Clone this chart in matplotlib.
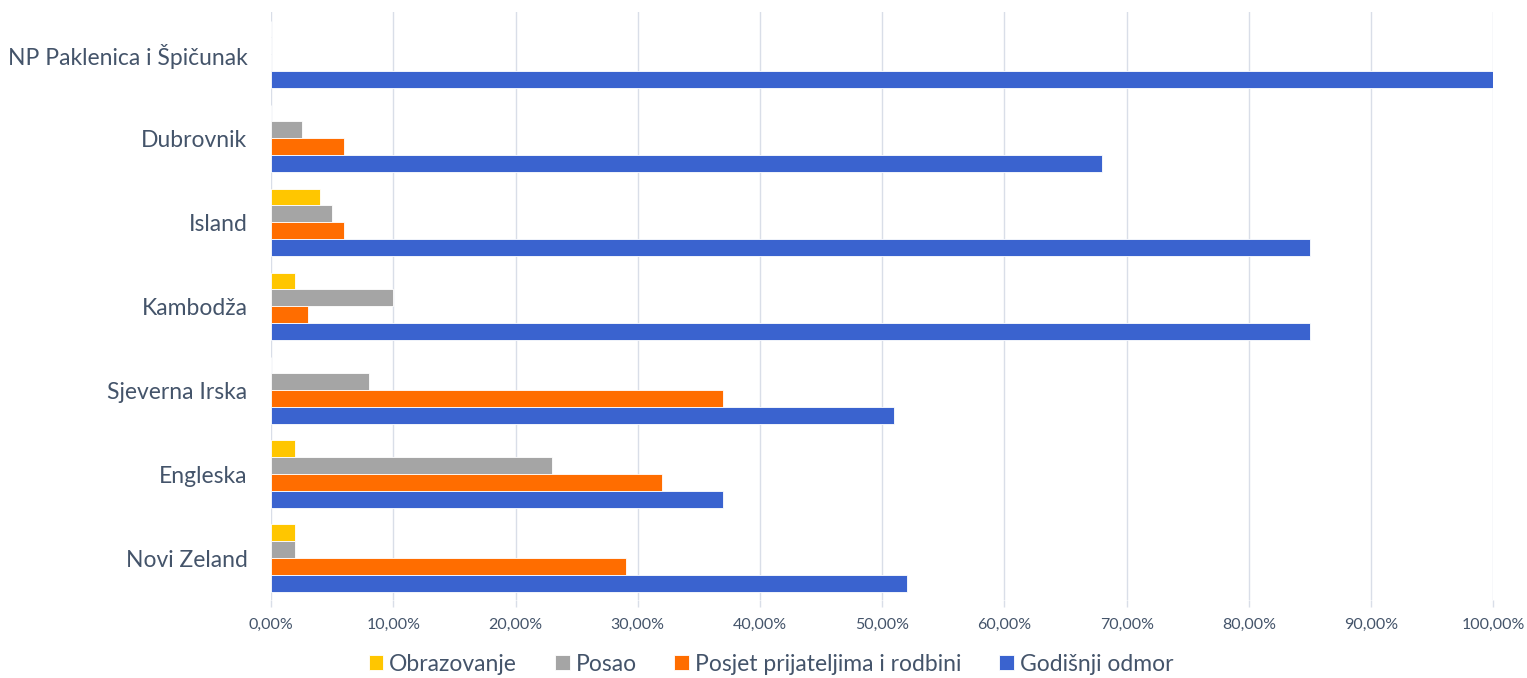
import numpy as np
import matplotlib.pyplot as plt
from matplotlib.ticker import FuncFormatter

# data (percent)
destinations = ["NP Paklenica i Špičunak", "Dubrovnik", "Island", "Kambodža",
                "Sjeverna Irska", "Engleska", "Novi Zeland"]
series_names = ["Obrazovanje", "Posao", "Posjet prijateljima i rodbini", "Godišnji odmor"]
obrazovanje = [0, 0, 4, 2, 0, 2, 2]
posao = [0, 2.5, 5, 10, 8, 23, 2]
posjet = [0, 6, 6, 3, 37, 32, 29]
godisnji = [100, 68, 85, 85, 51, 37, 52]

colors = ["#FFC600", "#A5A5A5", "#FF6D00", "#3A63CF"]
text_col = "#44546A"
grid_col = "#D9DEE8"

plt.rcParams['font.family'] = ['Lato', 'DejaVu Sans']

fig, ax = plt.subplots(figsize=(15.27, 6.78), dpi=100)
fig.subplots_adjust(left=0.1775, right=0.978, top=0.982, bottom=0.115)

y = np.arange(len(destinations))
w = 0.2
all_series = [obrazovanje, posao, posjet, godisnji]
for i, (vals, name, c) in enumerate(zip(all_series, series_names, colors)):
    ax.barh(y + (i - 1.5) * w, vals, height=w, color=c, label=name,
            edgecolor="white", linewidth=0.6, zorder=3)

ax.set_ylim(len(destinations) - 0.5, -0.5)
ax.set_xlim(0, 100)
ax.set_yticks(y)
ax.set_yticklabels(destinations, fontsize=16.5, color=text_col)
ax.set_xticks(np.arange(0, 101, 10))
ax.xaxis.set_major_formatter(FuncFormatter(lambda v, p: f"{v:.2f}%".replace(".", ",")))
ax.tick_params(axis='x', labelsize=11.5, colors=text_col, length=5, width=1, color=grid_col, pad=8)
ax.tick_params(axis='y', length=0, pad=17)
for lab in ax.get_xticklabels():
    lab.set_color(text_col)

ax.grid(axis='x', color=grid_col, linewidth=1, zorder=0)
for s in ax.spines.values():
    s.set_visible(False)

leg = ax.legend(loc='center', bbox_to_anchor=(0.409, -0.109), ncol=4, frameon=False,
                fontsize=16.5, handlelength=0.65, handleheight=0.65, handletextpad=0.25,
                columnspacing=1.65, borderpad=0)
for t in leg.get_texts():
    t.set_color(text_col)

plt.savefig("out.png", dpi=100)
